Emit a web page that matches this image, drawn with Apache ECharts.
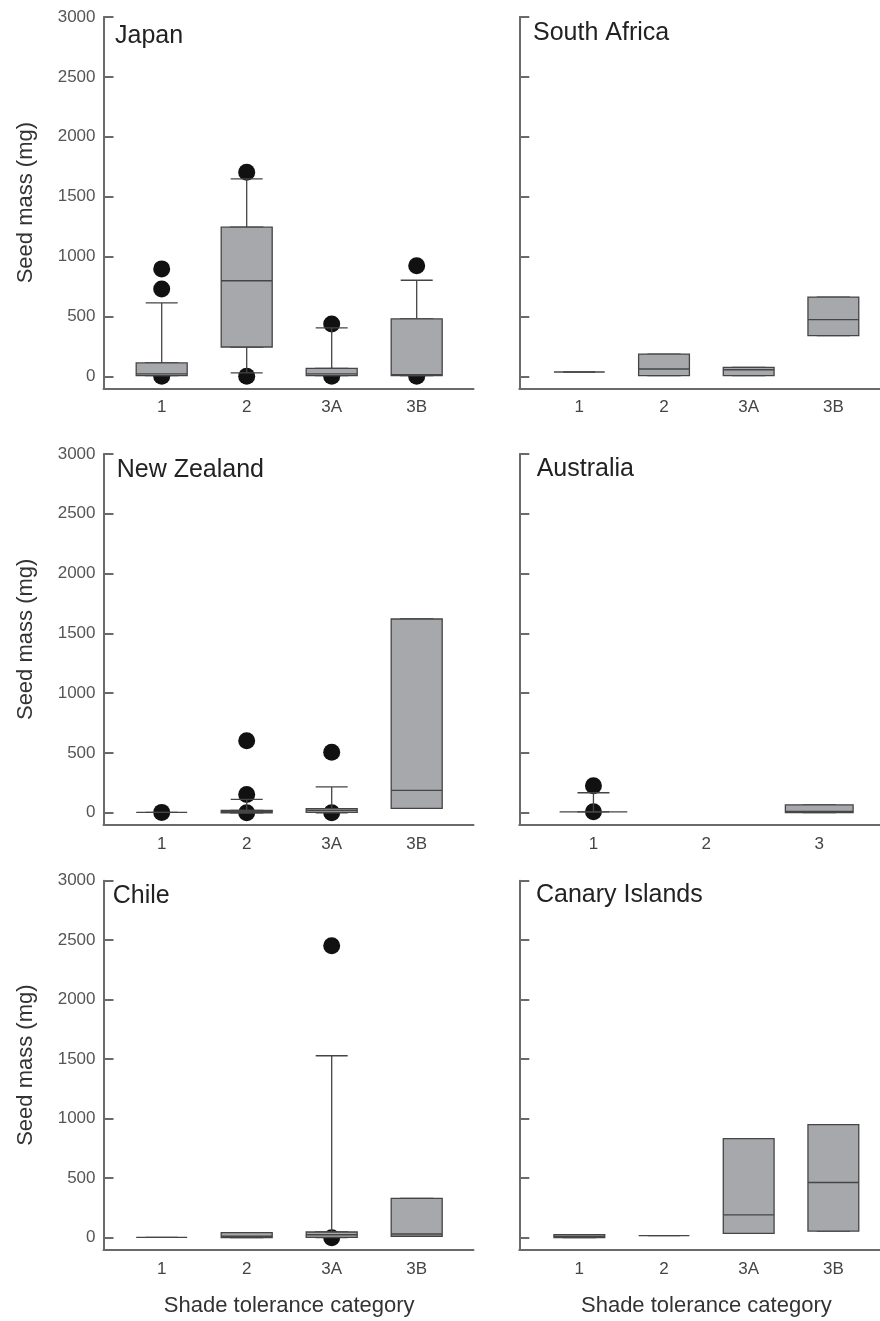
<!DOCTYPE html>
<html><head><meta charset="utf-8">
<script src="https://cdn.jsdelivr.net/npm/echarts@6/dist/echarts.min.js"></script>
<style>html,body{margin:0;padding:0;background:#fff}#c{width:880px;height:1321px}</style>
</head><body><div id="c"></div>
<script>
// ---------- data ----------
const categories4 = ['1', '2', '3A', '3B'];
const categoriesAus = ['1', '2', '3'];
const yTicks = [0, 500, 1000, 1500, 2000, 2500, 3000];
const panelNames = ['Japan', 'South Africa', 'New Zealand', 'Australia', 'Chile', 'Canary Islands'];
const yAxisTitle = 'Seed mass (mg)';
const xAxisTitle = 'Shade tolerance category';

// [whisker min, Q1, median, Q3, whisker max]
const japanBoxes = [[6, 6, 20, 112, 613], [28, 245, 798, 1245, 1649], [6, 6, 20, 67, 404], [6, 6, 14, 479, 802]];
const japanOutliers = [[0, 897], [0, 730], [0, 0], [1, 1704], [1, 0], [2, 437], [2, 0], [3, 923], [3, 0]];

const southAfricaBoxes = [[36, 36, 36, 36, 36], [5, 5, 61, 186, 186], [5, 5, 55, 74, 74], [339, 339, 473, 662, 662]];
const southAfricaOutliers = [];

const newZealandBoxes = [[3, 3, 3, 3, 3], [0, 0, 10, 20, 111], [0, 3, 20, 34, 217], [36, 36, 187, 1620, 1620]];
const newZealandOutliers = [[0, 3], [1, 602], [1, 153], [1, 0], [2, 505], [2, 0]];

const australiaBoxes = [[8, 8, 8, 8, 167], null, [2, 2, 12, 66, 66]];
const australiaOutliers = [[0, 226], [0, 8]];

const chileBoxes = [[2, 2, 2, 2, 2], [0, 0, 12, 42, 42], [0, 2, 25, 48, 1529], [12, 12, 31, 331, 331]];
const chileOutliers = [[2, 2454], [2, 0]];

const canaryBoxes = [[0, 0, 8, 25, 25], [17, 17, 17, 17, 17], [37, 37, 191, 832, 832], [56, 56, 464, 950, 950]];
const canaryOutliers = [];

const panelCategories = [categories4, categories4, categories4, categoriesAus, categories4, categories4];
const panelBoxes = [japanBoxes, southAfricaBoxes, newZealandBoxes, australiaBoxes, chileBoxes, canaryBoxes];
const panelOutliers = [japanOutliers, southAfricaOutliers, newZealandOutliers, australiaOutliers, chileOutliers, canaryOutliers];

// ---------- layout ----------
const FONT = 'Liberation Sans, Arial, Helvetica, sans-serif';
const rowTop = [17, 454, 880.7];
const rowBottom = [388.3, 824.7, 1249.6];
const axisLeft = [103.5, 519.3];
const axisRight = [473.5, 880];
const boxLeft = [119.2, 537];
const boxRight = [459.2, 875.7];
const titlePos = [[115, 23.4], [533, 20.7], [116.7, 457.7], [536.7, 456.7], [112.7, 883.4], [536, 882.4]];

const AXIS_COLOR = '#6a6a6a';
const BOX_FILL = '#a7a8ab';
const BOX_BORDER = '#454545';

const grid = [], xAxis = [], yAxis = [], series = [], title = [];

panelNames.forEach((name, i) => {
  const row = Math.floor(i / 2), col = i % 2;
  const top = rowTop[row], h = rowBottom[row] - rowTop[row];
  grid.push({left: axisLeft[col], top: top, width: axisRight[col] - axisLeft[col], height: h, outerBoundsMode: 'none', containLabel: false});
  grid.push({left: boxLeft[col], top: top, width: boxRight[col] - boxLeft[col], height: h, outerBoundsMode: 'none', containLabel: false});
  const gA = 2 * i, gB = 2 * i + 1;

  xAxis.push({gridIndex: gA, type: 'value', min: 0, max: 1,
    axisLine: {show: true, onZero: false, lineStyle: {color: AXIS_COLOR, width: 2}},
    axisTick: {show: false}, axisLabel: {show: false}, splitLine: {show: false}});
  xAxis.push({gridIndex: gB, type: 'category', data: panelCategories[i],
    axisLine: {show: false, onZero: false}, axisTick: {show: false}, splitLine: {show: false},
    axisLabel: {fontSize: 17, color: '#444', margin: 11, fontFamily: FONT},
    name: row === 2 ? xAxisTitle : '', nameLocation: 'middle', nameGap: 45,
    nameTextStyle: {fontSize: 22, color: '#333', fontFamily: FONT}});
  xAxis.push({gridIndex: gB, type: 'category', data: panelCategories[i], show: false,
    axisLine: {onZero: false}});

  yAxis.push({gridIndex: gA, type: 'value', min: -100, max: 3000,
    axisLine: {show: true, onZero: false, lineStyle: {color: AXIS_COLOR, width: 2}},
    axisTick: {show: true, inside: true, length: 10, customValues: yTicks, lineStyle: {color: AXIS_COLOR, width: 2}},
    axisLabel: {show: col === 0, customValues: yTicks, fontSize: 17, color: '#555', margin: 8, fontFamily: FONT,
      formatter: v => String(v)},
    splitLine: {show: false},
    name: col === 0 ? yAxisTitle : '', nameLocation: 'middle', nameGap: 67,
    nameTextStyle: {fontSize: 22, color: '#333', fontFamily: FONT}});
  yAxis.push({gridIndex: gB, type: 'value', min: -100, max: 3000, show: false});

  const boxes = panelBoxes[i];
  const empty = ['-', '-', '-', '-', '-'];
  const whiskerData = boxes.map(b => b ? b.slice() : empty);
  const bodyData = boxes.map(b => b ? [b[1], b[1], b[2], b[3], b[3]] : empty);

  series.push({type: 'scatter', xAxisIndex: 3 * i + 1, yAxisIndex: 2 * i + 1,
    data: panelOutliers[i], symbol: 'circle', symbolSize: 17, z: 2,
    itemStyle: {color: '#111', opacity: 1}, emphasis: {disabled: true}, silent: true});
  series.push({type: 'boxplot', xAxisIndex: 3 * i + 2, yAxisIndex: 2 * i + 1,
    data: whiskerData, boxWidth: [32, 32], z: 3,
    itemStyle: {color: BOX_FILL, borderColor: BOX_BORDER, borderWidth: 1.3},
    emphasis: {disabled: true}, silent: true});
  series.push({type: 'boxplot', xAxisIndex: 3 * i + 1, yAxisIndex: 2 * i + 1,
    data: bodyData, boxWidth: ['60%', '60%'], z: 4,
    itemStyle: {color: BOX_FILL, borderColor: BOX_BORDER, borderWidth: 1.3},
    emphasis: {disabled: true}, silent: true});

  title.push({text: name, left: titlePos[i][0], top: titlePos[i][1], padding: 0,
    textStyle: {fontSize: 25, fontWeight: 'normal', color: '#222', fontFamily: FONT}});
});

const chart = echarts.init(document.getElementById('c'), null, {renderer: 'canvas'});
chart.setOption({
  animation: false,
  backgroundColor: '#fff',
  title: title,
  grid: grid,
  xAxis: xAxis,
  yAxis: yAxis,
  series: series
});
</script>
</body></html>
